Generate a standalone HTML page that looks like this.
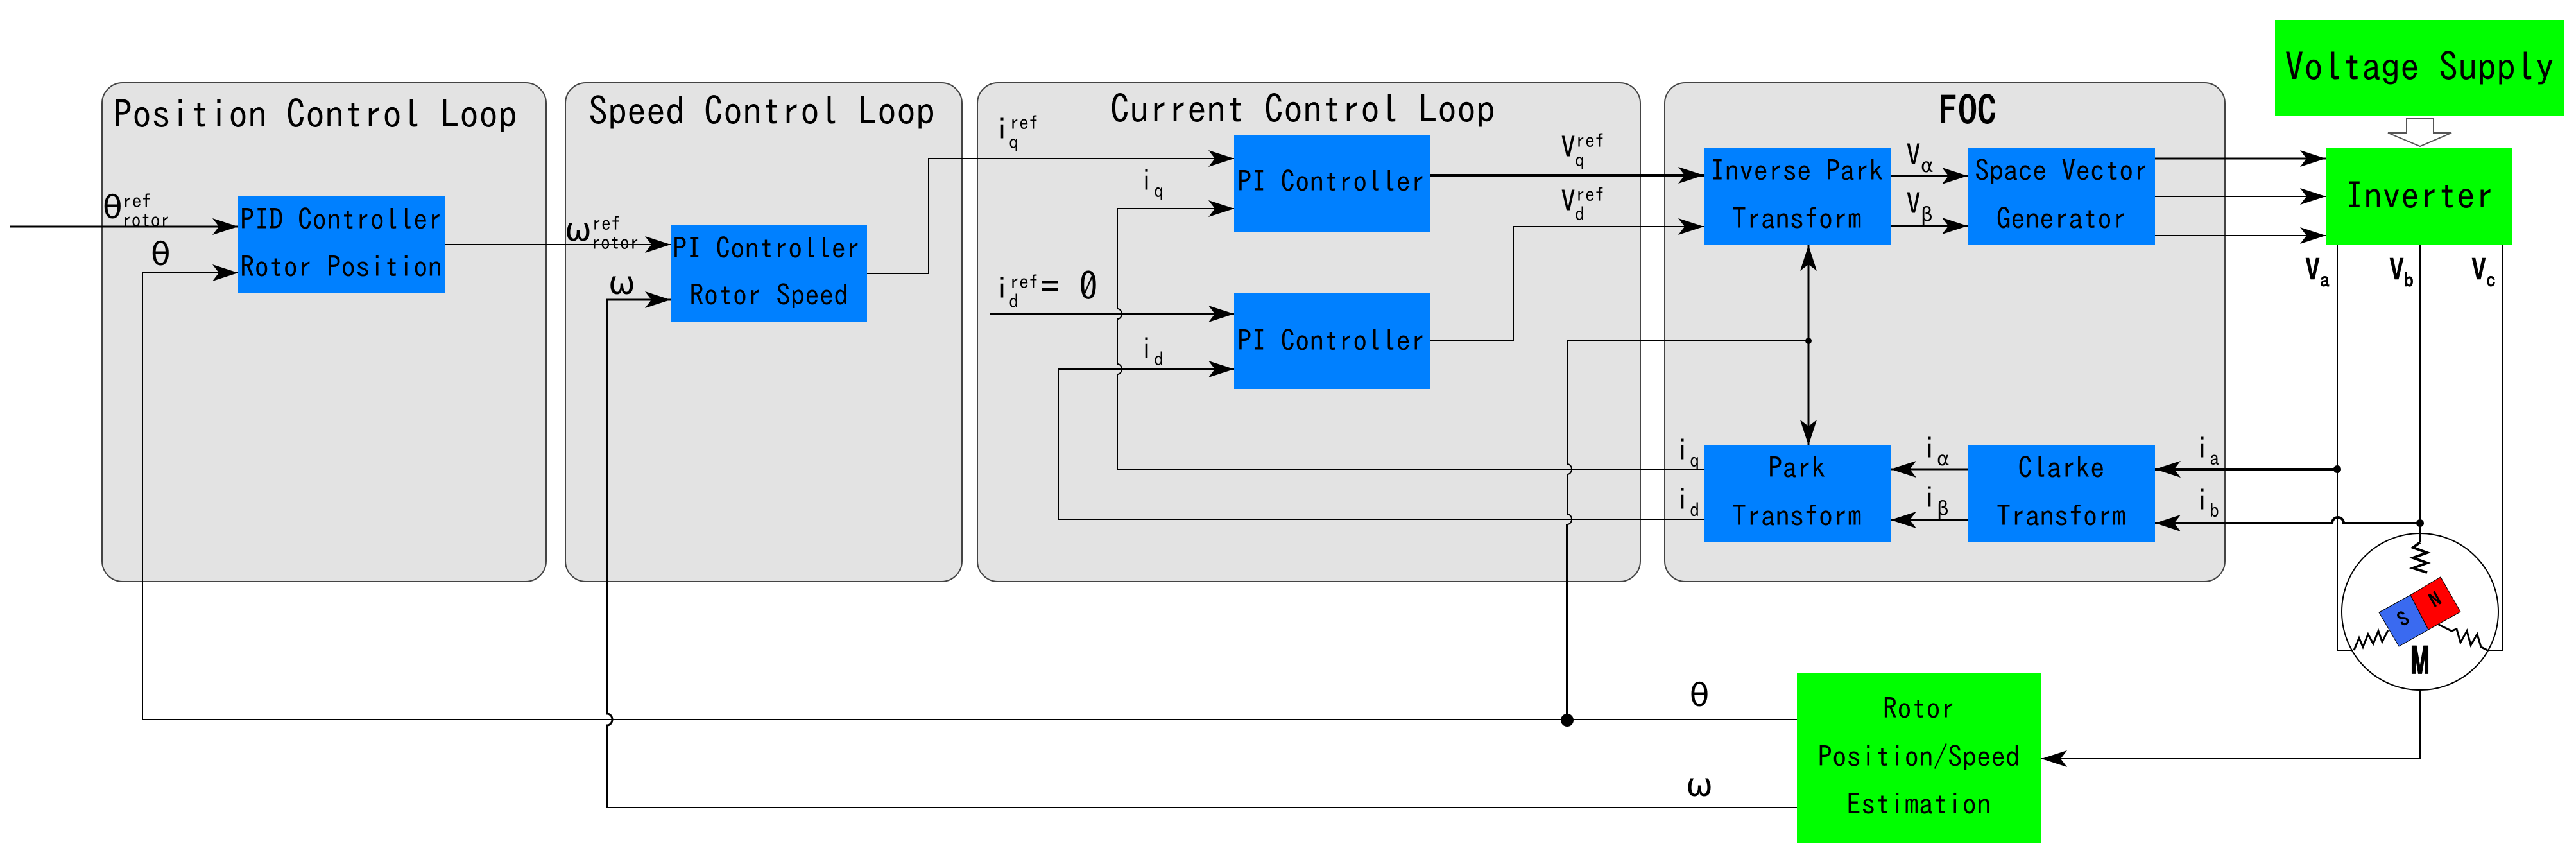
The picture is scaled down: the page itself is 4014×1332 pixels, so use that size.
<!DOCTYPE html>
<html><head><meta charset="utf-8">
<style>
html,body{margin:0;padding:0;background:#fff;}
svg{display:block;}
text{font-family:"IPAGothic","Liberation Mono",monospace;fill:#000;}
.g{font-family:"DejaVu Sans",sans-serif;font-style:normal;}
</style></head><body>
<svg width="4014" height="1332" viewBox="0 0 4014 1332" xmlns="http://www.w3.org/2000/svg">
<defs>
<marker id="a" markerUnits="userSpaceOnUse" markerWidth="44" markerHeight="30" refX="40" refY="15" orient="auto">
<path d="M0,2 L40,15 L0,28 L10,15 z" fill="#000"/>
</marker>
</defs>
<g fill="#e3e3e3" stroke="#444" stroke-width="2">
<rect x="159" y="129" width="692" height="777" rx="32"/>
<rect x="881" y="129" width="618" height="777" rx="32"/>
<rect x="1523" y="129" width="1033" height="777" rx="32"/>
<rect x="2594" y="129" width="873" height="777" rx="32"/>
</g>
<g font-size="60">
<text x="176" y="200">Position Control Loop</text>
<text x="917" y="195">Speed Control Loop</text>
<text x="1730" y="192">Current Control Loop</text>
<text x="3066" y="194" text-anchor="middle" font-weight="bold">FOC</text>
</g>
<g fill="#0080ff">
<rect x="371" y="306" width="323" height="150"/>
<rect x="1045" y="351" width="306" height="150"/>
<rect x="1923" y="210" width="305" height="151"/>
<rect x="1923" y="456" width="305" height="150"/>
<rect x="2655" y="231" width="291" height="151"/>
<rect x="3066" y="231" width="292" height="151"/>
<rect x="2655" y="694" width="291" height="151"/>
<rect x="3066" y="694" width="292" height="151"/>
</g>
<g fill="#00ff00">
<rect x="3545" y="31" width="451" height="150"/>
<rect x="3624" y="231" width="291" height="150"/>
<rect x="2800" y="1049" width="381" height="264"/>
</g>
<g font-size="45">
<text x="374" y="358">PID Controller</text>
<text x="374" y="432">Rotor Position</text>
<text x="1048" y="403">PI Controller</text>
<text x="1198" y="476" text-anchor="middle">Rotor Speed</text>
<text x="1928" y="299">PI Controller</text>
<text x="1928" y="547">PI Controller</text>
<text x="2800" y="282" text-anchor="middle">Inverse Park</text>
<text x="2800" y="357" text-anchor="middle">Transform</text>
<text x="3212" y="282" text-anchor="middle">Space Vector</text>
<text x="3212" y="357" text-anchor="middle">Generator</text>
<text x="2800" y="745" text-anchor="middle">Park</text>
<text x="2800" y="820" text-anchor="middle">Transform</text>
<text x="3212" y="745" text-anchor="middle">Clarke</text>
<text x="3212" y="820" text-anchor="middle">Transform</text>
<text x="2990" y="1120" text-anchor="middle">Rotor</text>
<text x="2990" y="1195" text-anchor="middle">Position/Speed</text>
<text x="2990" y="1269" text-anchor="middle">Estimation</text>
</g>
<text x="3770" y="126" font-size="60" text-anchor="middle">Voltage Supply</text>
<text x="3770" y="326" font-size="58" text-anchor="middle">Inverter</text>
<path d="M3750,185 L3792,185 L3792,207 L3820,207 L3771,228 L3721,207 L3750,207 z" fill="#fff" stroke="#555" stroke-width="2"/>
<g fill="none" stroke="#000" stroke-width="2">
<line x1="15" y1="353" x2="371" y2="353" marker-end="url(#a)" stroke-width="3"/>
<path d="M222,1121 L222,425 L371,425" marker-end="url(#a)"/>
<line x1="694" y1="381" x2="1045" y2="381" marker-end="url(#a)"/>
<path d="M946,1258 L946,1130 A8,9 0 0 0 946,1112 L946,467 L1045,467" marker-end="url(#a)" stroke-width="3"/>
<path d="M1351,426 L1447,426 L1447,247 L1923,247" marker-end="url(#a)"/>
<line x1="1542" y1="489" x2="1923" y2="489" marker-end="url(#a)"/>
<path d="M2655,731 L1741,731 L1741,583 A7,8 0 0 0 1741,567 L1741,497 A7,8 0 0 0 1741,481 L1741,325 L1923,325" marker-end="url(#a)"/>
<path d="M2655,809 L1649,809 L1649,575 L1923,575" marker-end="url(#a)"/>
<line x1="2228" y1="273" x2="2655" y2="273" marker-end="url(#a)" stroke-width="4"/>
<path d="M2228,531 L2358,531 L2358,353 L2655,353" marker-end="url(#a)"/>
<path d="M2818,531 L2442,531 L2442,723 A7,8 0 0 1 2442,739 L2442,801 A7,8 0 0 1 2442,817"/>
<line x1="2442" y1="817" x2="2442" y2="1121" stroke-width="4"/>
<line x1="2800" y1="1121" x2="222" y2="1121" stroke-width="2"/>
<line x1="2800" y1="1258" x2="946" y2="1258"/>
<line x1="2818" y1="531" x2="2818" y2="382" marker-end="url(#a)" stroke-width="3"/>
<line x1="2818" y1="531" x2="2818" y2="694" marker-end="url(#a)" stroke-width="3"/>
<line x1="2946" y1="274" x2="3066" y2="274" marker-end="url(#a)" stroke-width="3"/>
<line x1="2946" y1="352" x2="3066" y2="352" marker-end="url(#a)"/>
<line x1="3358" y1="247" x2="3624" y2="247" marker-end="url(#a)" stroke-width="3"/>
<line x1="3358" y1="306" x2="3624" y2="306" marker-end="url(#a)"/>
<line x1="3358" y1="367" x2="3624" y2="367" marker-end="url(#a)"/>
<line x1="3066" y1="731" x2="2946" y2="731" marker-end="url(#a)" stroke-width="3"/>
<line x1="3066" y1="810" x2="2946" y2="810" marker-end="url(#a)" stroke-width="3"/>
<line x1="3642" y1="731" x2="3358" y2="731" marker-end="url(#a)" stroke-width="4"/>
<path d="M3771,815 L3652,815 A8,8 0 0 0 3634,815 L3358,815" marker-end="url(#a)" stroke-width="4"/>
<path d="M3642,381 L3642,1013 L3666,1013"/>
<path d="M3899,381 L3899,1013 L3876,1013"/>
<line x1="3771" y1="381" x2="3771" y2="845"/>
<path d="M3771,1075 L3771,1182 L3181,1182" marker-end="url(#a)"/>
</g>
<g fill="#000">
<circle cx="2818" cy="531" r="5"/>
<circle cx="2442" cy="1122" r="10"/>
<circle cx="3642" cy="731" r="6"/>
<circle cx="3771" cy="815" r="6"/>
</g>
<circle cx="3771" cy="953" r="122" fill="none" stroke="#000" stroke-width="2"/>
<g fill="none" stroke="#000" stroke-width="4">
<polyline points="3771,845 3760,853 3782,861 3760,869 3782,877 3760,885 3782,892"/>
<polyline points="3721,982 3712,1000 3706,983 3698,1003 3690,988 3682,1008 3676,994 3668,1013" stroke-width="3"/>
<polyline points="3800,973 3820,983 3828,980 3834,1001 3844,983 3850,1005 3860,988 3866,1008 3876,1013" stroke-width="3"/>
</g>
<polygon points="3707,954 3756,927 3784,981 3738,1007" fill="#3a6af0" stroke="#000" stroke-width="1"/>
<polygon points="3756,927 3803,899 3834,953 3784,981" fill="#ff0000" stroke="#000" stroke-width="1"/>
<text x="3745" y="975" font-size="30" font-weight="bold" text-anchor="middle" transform="rotate(-30 3745 965)">S</text>
<text x="3795" y="945" font-size="30" font-weight="bold" text-anchor="middle" transform="rotate(-30 3795 935)">N</text>
<text x="3771" y="1052" font-size="60" font-weight="bold" text-anchor="middle" font-family="Liberation Sans, sans-serif">M</text>
<g font-size="46" font-family="Liberation Sans, sans-serif">
<text x="160" y="340"><tspan class="g" font-size="50">θ</tspan><tspan font-size="30" dy="-16">ref</tspan><tspan font-size="30" dx="-46" dy="30">rotor</tspan></text>
<text x="235" y="413" class="g" font-size="50">θ</text>
<text x="880" y="375"><tspan class="g" font-size="50">ω</tspan><tspan font-size="30" dy="-16">ref</tspan><tspan font-size="30" dx="-46" dy="30">rotor</tspan></text>
<text x="948" y="458" class="g" font-size="50">ω</text>
<text x="1550" y="218">i<tspan font-size="30" dy="-16">ref</tspan><tspan font-size="30" dx="-46" dy="30">q</tspan></text>
<text x="1775" y="298">i<tspan font-size="30" dy="10">q</tspan></text>
<text x="1550" y="466">i<tspan font-size="30" dy="-16">ref</tspan><tspan font-size="30" dx="-46" dy="30">d</tspan><tspan font-size="60" dx="34" dy="-12">= 0</tspan></text>
<text x="1775" y="560">i<tspan font-size="30" dy="10">d</tspan></text>
<text x="2432" y="246">V<tspan font-size="30" dy="-16">ref</tspan><tspan font-size="30" dx="-46" dy="30">q</tspan></text>
<text x="2432" y="330">V<tspan font-size="30" dy="-16">ref</tspan><tspan font-size="30" dx="-46" dy="30">d</tspan></text>
<text x="2610" y="718">i<tspan font-size="30" dy="10">q</tspan></text>
<text x="2610" y="795">i<tspan font-size="30" dy="10">d</tspan></text>
<text x="2970" y="258">V<tspan class="g" font-size="30" dy="10">α</tspan></text>
<text x="2970" y="334">V<tspan class="g" font-size="30" dy="10">β</tspan></text>
<text x="2995" y="715">i<tspan class="g" font-size="30" dy="10">α</tspan></text>
<text x="2995" y="792">i<tspan class="g" font-size="30" dy="10">β</tspan></text>
<text x="3420" y="715">i<tspan font-size="30" dy="10">a</tspan></text>
<text x="3420" y="796">i<tspan font-size="30" dy="10">b</tspan></text>
<text x="3592" y="437" font-weight="bold">V<tspan font-size="30" dy="10">a</tspan></text>
<text x="3723" y="437" font-weight="bold">V<tspan font-size="30" dy="10">b</tspan></text>
<text x="3851" y="437" font-weight="bold">V<tspan font-size="30" dy="10">c</tspan></text>
<text x="2648" y="1100" text-anchor="middle" class="g" font-size="50">θ</text>
<text x="2648" y="1240" text-anchor="middle" class="g" font-size="50">ω</text>
</g>
</svg>
</body></html>
